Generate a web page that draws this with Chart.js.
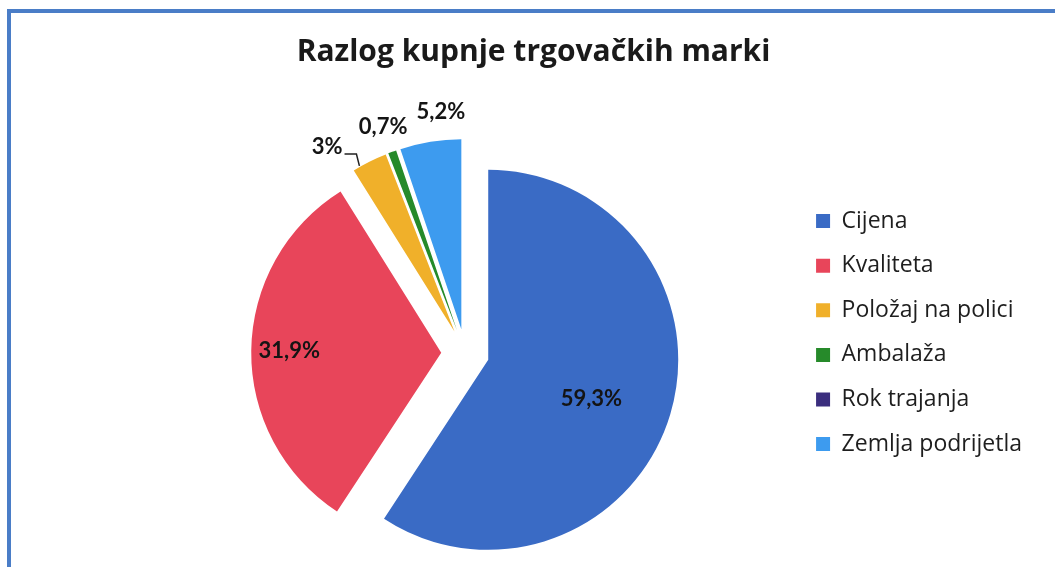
<!DOCTYPE html>
<html>
<head>
<meta charset="utf-8">
<script src="https://cdn.jsdelivr.net/npm/chart.js@4.4.1/dist/chart.umd.min.js"></script>
<style>
    body { margin: 0; background: #fff; }
    #okvir { position: absolute; left: 7px; top: 9px; right: -10px; bottom: -10px; border-left: 4px solid #4a7dc7; border-top: 4px solid #4a7dc7; pointer-events: none; }
    #graficoPita { position: absolute; left: 0; top: 0; }
</style>
</head>
<body>
<canvas id="graficoPita" width="1055" height="567"></canvas>
<div id="okvir"></div>
<script>
const naslov = 'Razlog kupnje trgovačkih marki';
const kategorije = ['Cijena', 'Kvaliteta', 'Položaj na polici', 'Ambalaža', 'Rok trajanja', 'Zemlja podrijetla'];
const vrijednosti = [59.3, 31.9, 3, 0.7, 0, 5.2];
const boje = ['#3a6bc5', '#e8455a', '#f0b02a', '#268a2a', '#3b2e7e', '#3d9bef'];

// explosion of each slice in px, and where the value labels sit
const EKSPLOZIJA = 24;
const udaljenostOznake = [0.58, 0.8, 1.18, 1.14, 0, 1.15];
const pomakKuta = [4, 0, -8, 0, 0, 4];
const saLinijom = [false, false, true, false, false, false];

function formatiraj(v) {
    return String(v).replace('.', ',') + '%';
}

const eksplodiraj = {
    id: 'eksplodiraj',
    beforeDatasetDraw(chart, args) {
        const ctx = chart.ctx;
        args.meta.data.forEach((arc) => {
            const sredina = (arc.startAngle + arc.endAngle) / 2;
            ctx.save();
            ctx.translate(Math.cos(sredina) * EKSPLOZIJA, Math.sin(sredina) * EKSPLOZIJA);
            arc.draw(ctx);
            ctx.restore();
        });
        return false;
    }
};

const oznake = {
    id: 'oznake',
    afterDatasetsDraw(chart) {
        const ctx = chart.ctx;
        const meta = chart.getDatasetMeta(0);
        ctx.save();
        ctx.font = 'bold 22px Lato';
        ctx.fillStyle = '#141414';
        ctx.textAlign = 'center';
        ctx.textBaseline = 'middle';
        meta.data.forEach((arc, i) => {
            if (!vrijednosti[i]) return;
            const sredina = (arc.startAngle + arc.endAngle) / 2;
            const vx = arc.x + Math.cos(sredina) * EKSPLOZIJA;
            const vy = arc.y + Math.sin(sredina) * EKSPLOZIJA;
            const kut = sredina + pomakKuta[i] * Math.PI / 180;
            const r = arc.outerRadius * udaljenostOznake[i];
            const x = vx + Math.cos(kut) * r;
            const y = vy + Math.sin(kut) * r;
            const tekst = formatiraj(vrijednosti[i]);
            ctx.fillText(tekst, x, y);
            if (saLinijom[i]) {
                const sirina = ctx.measureText(tekst).width;
                const k = arc.startAngle + (arc.endAngle - arc.startAngle) * 0.2;
                const ax = vx + Math.cos(k) * (arc.outerRadius + 1);
                const ay = vy + Math.sin(k) * (arc.outerRadius + 1);
                ctx.beginPath();
                ctx.strokeStyle = '#222';
                ctx.lineWidth = 1.5;
                ctx.moveTo(x + sirina / 2 + 2, y + 7);
                ctx.lineTo(ax - 3, y + 7);
                ctx.lineTo(ax, ay);
                ctx.stroke();
            }
        });
        ctx.restore();
    }
};

// title sits over the whole frame, not over the chart area
const naslovPlugin = {
    id: 'naslovPlugin',
    afterDraw(chart) {
        const ctx = chart.ctx;
        ctx.save();
        ctx.font = 'bold 30px "Open Sans"';
        ctx.fillStyle = '#1a1a1a';
        ctx.textAlign = 'center';
        ctx.textBaseline = 'middle';
        ctx.fillText(naslov, chart.width / 2 + 6, 52);
        ctx.restore();
    }
};

const graficoPita = new Chart(document.getElementById('graficoPita'), {
    type: 'pie',
    data: {
        labels: kategorije,
        datasets: [{
            data: vrijednosti,
            backgroundColor: boje,
            borderWidth: 0
        }]
    },
    options: {
        responsive: false,
        animation: false,
        devicePixelRatio: 1,
        radius: 190,
        layout: { padding: { top: 188, bottom: 49, left: 136, right: 23 } },
        plugins: {
            tooltip: { enabled: false },
            title: { display: false },
            legend: {
                position: 'right',
                align: 'start',
                labels: {
                    boxWidth: 14,
                    boxHeight: 14,
                    padding: 21.6,
                    color: '#1e1e1e',
                    font: { family: 'Open Sans', size: 23 }
                }
            }
        }
    },
    plugins: [eksplodiraj, oznake, naslovPlugin]
});
</script>
</body>
</html>
